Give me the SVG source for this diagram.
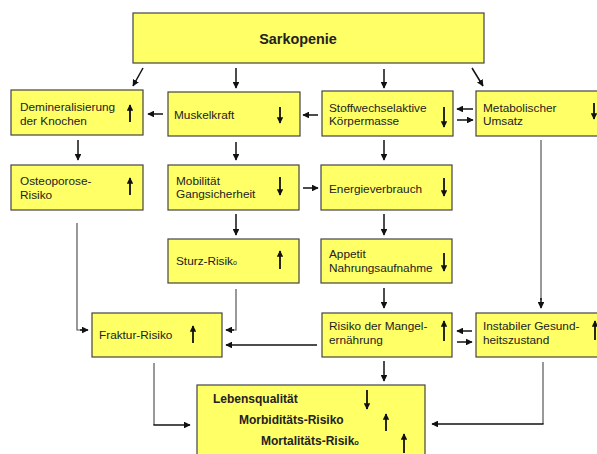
<svg xmlns="http://www.w3.org/2000/svg" width="597" height="454" viewBox="0 0 597 454">
<style>
.box{fill:#ffff66;stroke:#444;stroke-width:1.2}
.t{font-family:"Liberation Sans",Arial,sans-serif;font-size:11.8px;fill:#222}
.b{font-family:"Liberation Sans",Arial,sans-serif;font-weight:bold;fill:#222}
.c{fill:none;stroke:#111;stroke-width:1.5}
.g{fill:none;stroke:#555;stroke-width:1.2}
.ind{fill:none;stroke:#111;stroke-width:1.8}
</style>
<defs>
<marker id="ah" viewBox="0 0 10 10" refX="9" refY="5" markerWidth="4.5" markerHeight="4.5" orient="auto" markerUnits="strokeWidth">
<path d="M0,0 L10,5 L0,10 z" fill="#111"/>
</marker>
<marker id="ai" viewBox="0 0 10 10" refX="9" refY="5" markerWidth="3.6" markerHeight="3.6" orient="auto" markerUnits="strokeWidth">
<path d="M0,0 L10,5 L0,10 z" fill="#111"/>
</marker>
</defs>
<rect width="597" height="454" fill="#fff"/>

<g id="sarkopenie">
<rect class="box" x="133" y="13" width="351" height="50"/>
<text class="b" x="298" y="44" font-size="14.4" text-anchor="middle">Sarkopenie</text>
</g>

<g id="demineralisierung">
<rect class="box" x="11" y="90" width="132" height="45"/>
<text class="t" x="20" y="111">Demineralisierung</text>
<text class="t" x="20" y="125">der Knochen</text>
<line class="ind" x1="130" y1="122" x2="130" y2="105" marker-end="url(#ai)"/>
</g>

<g id="muskelkraft">
<rect class="box" x="168" y="92" width="132" height="44"/>
<text class="t" x="174" y="119">Muskelkraft</text>
<line class="ind" x1="280" y1="107" x2="280" y2="123" marker-end="url(#ai)"/>
</g>

<g id="stoffwechsel">
<rect class="box" x="322" y="91" width="131" height="45"/>
<text class="t" x="329" y="112">Stoffwechselaktive</text>
<text class="t" x="329" y="125">Körpermasse</text>
<line class="ind" x1="444" y1="107" x2="444" y2="127" marker-end="url(#ai)"/>
</g>

<g id="metabolischer">
<rect class="box" x="476" y="91" width="130" height="45"/>
<text class="t" x="483" y="112">Metabolischer</text>
<text class="t" x="483" y="125">Umsatz</text>
<line class="ind" x1="594" y1="103" x2="594" y2="119" marker-end="url(#ai)"/>
</g>

<g id="osteoporose">
<rect class="box" x="11" y="165" width="132" height="45"/>
<text class="t" x="20" y="185">Osteoporose-</text>
<text class="t" x="20" y="199">Risiko</text>
<line class="ind" x1="130" y1="195" x2="130" y2="178" marker-end="url(#ai)"/>
</g>

<g id="mobilitaet">
<rect class="box" x="168" y="165" width="131" height="45"/>
<text class="t" x="176" y="185">Mobilität</text>
<text class="t" x="176" y="198">Gangsicherheit</text>
<line class="ind" x1="280" y1="177" x2="280" y2="195" marker-end="url(#ai)"/>
</g>

<g id="sturz">
<rect class="box" x="168" y="239" width="131" height="44"/>
<text class="t" x="176" y="265">Sturz-Risik<tspan font-size="7">o</tspan></text>
<line class="ind" x1="280" y1="269" x2="280" y2="251" marker-end="url(#ai)"/>
</g>

<g id="energie">
<rect class="box" x="321" y="165" width="131" height="45"/>
<text class="t" x="329" y="193">Energieverbrauch</text>
<line class="ind" x1="444" y1="178" x2="444" y2="196" marker-end="url(#ai)"/>
</g>

<g id="appetit">
<rect class="box" x="321" y="239" width="131" height="44"/>
<text class="t" x="329" y="258">Appetit</text>
<text class="t" x="329" y="272">Nahrungsaufnahme</text>
<line class="ind" x1="444" y1="253" x2="444" y2="271" marker-end="url(#ai)"/>
</g>

<g id="fraktur">
<rect class="box" x="92" y="313" width="130" height="44"/>
<text class="t" x="99" y="339">Fraktur-Risiko</text>
<line class="ind" x1="193" y1="343" x2="193" y2="326" marker-end="url(#ai)"/>
</g>

<g id="mangel">
<rect class="box" x="322" y="313" width="130" height="44"/>
<text class="t" x="329" y="330">Risiko der Mangel-</text>
<text class="t" x="329" y="344">ernährung</text>
<line class="ind" x1="444" y1="341" x2="444" y2="321" marker-end="url(#ai)"/>
</g>

<g id="instabil">
<rect class="box" x="476" y="313" width="130" height="44"/>
<text class="t" x="483" y="330">Instabiler Gesund-</text>
<text class="t" x="483" y="344">heitszustand</text>
<line class="ind" x1="595" y1="340" x2="595" y2="321" marker-end="url(#ai)"/>
</g>

<g id="lebensqualitaet">
<rect class="box" x="197" y="385" width="228" height="75"/>
<text class="b" x="213" y="403" font-size="12">Lebensqualität</text>
<text class="b" x="239" y="424" font-size="12">Morbiditäts-Risiko</text>
<text class="b" x="261" y="445" font-size="12">Mortalitäts-Risik<tspan font-size="7.5">o</tspan></text>
<line class="ind" x1="367" y1="390" x2="367" y2="409" marker-end="url(#ai)"/>
<line class="ind" x1="386" y1="431" x2="386" y2="414" marker-end="url(#ai)"/>
<line class="ind" x1="404" y1="453" x2="404" y2="434" marker-end="url(#ai)"/>
</g>

<g id="connectors">
<line class="c" x1="143" y1="68" x2="133" y2="86" marker-end="url(#ah)"/>
<line class="c" x1="236" y1="68" x2="236" y2="88" marker-end="url(#ah)"/>
<line class="c" x1="384" y1="69" x2="384" y2="88" marker-end="url(#ah)"/>
<line class="c" x1="472" y1="68" x2="483" y2="86" marker-end="url(#ah)"/>
<line class="c" x1="163" y1="114" x2="148" y2="114" marker-end="url(#ah)"/>
<line class="c" x1="318" y1="115" x2="303" y2="115" marker-end="url(#ah)"/>
<line class="c" x1="473" y1="109" x2="457" y2="109" marker-end="url(#ah)"/>
<line class="c" x1="457" y1="120" x2="473" y2="120" marker-end="url(#ah)"/>
<line class="c" x1="78" y1="140" x2="78" y2="160" marker-end="url(#ah)"/>
<line class="c" x1="236" y1="142" x2="236" y2="160" marker-end="url(#ah)"/>
<line class="c" x1="384" y1="140" x2="384" y2="160" marker-end="url(#ah)"/>
<line class="c" x1="303" y1="188" x2="318" y2="188" marker-end="url(#ah)"/>
<line class="c" x1="236" y1="214" x2="236" y2="235" marker-end="url(#ah)"/>
<line class="c" x1="384" y1="214" x2="384" y2="235" marker-end="url(#ah)"/>
<line class="c" x1="384" y1="288" x2="384" y2="308" marker-end="url(#ah)"/>
<path class="g" d="M541,140 L541,300"/>
<line class="c" x1="541" y1="298" x2="541" y2="308" marker-end="url(#ah)"/>
<path class="g" d="M77,223 L77,330 L82,330"/>
<line class="c" x1="80" y1="330" x2="88" y2="330" marker-end="url(#ah)"/>
<path class="g" d="M236,289 L236,330 L232,330"/>
<line class="c" x1="234" y1="330" x2="226" y2="330" marker-end="url(#ah)"/>
<line class="c" x1="317" y1="345" x2="226" y2="345" marker-end="url(#ah)"/>
<line class="c" x1="472" y1="331" x2="457" y2="331" marker-end="url(#ah)"/>
<line class="c" x1="457" y1="342" x2="472" y2="342" marker-end="url(#ah)"/>
<line class="c" x1="384" y1="361" x2="384" y2="381" marker-end="url(#ah)"/>
<path class="g" d="M154,363 L154,425"/>
<path class="c" d="M153.4,425 L190,425" marker-end="url(#ah)"/>
<path class="g" d="M543,362 L543,424"/>
<path class="c" d="M543.6,424 L432,424" marker-end="url(#ah)"/>
</g>
</svg>
